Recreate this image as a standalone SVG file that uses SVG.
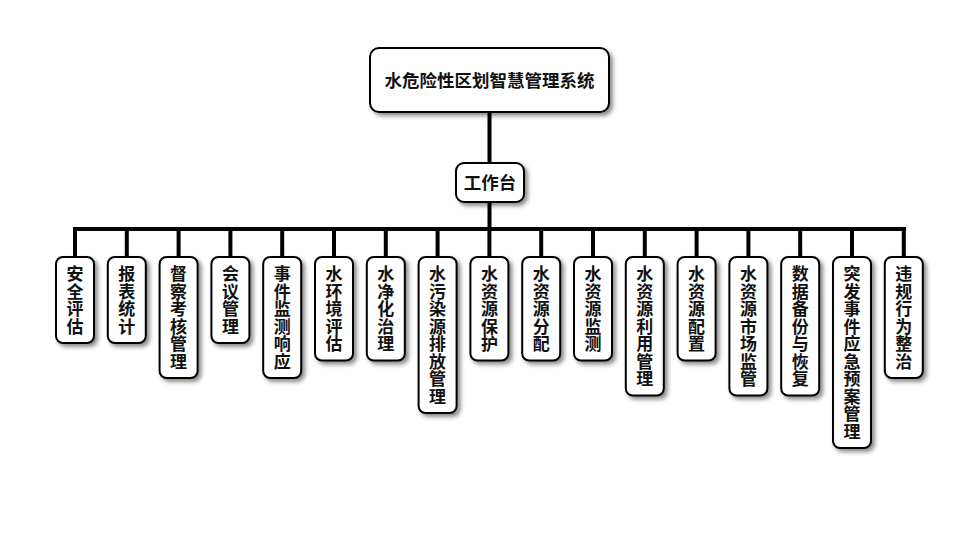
<svg xmlns="http://www.w3.org/2000/svg" width="980" height="560" viewBox="0 0 980 560">
<defs>
<filter id="sh" x="-30%" y="-30%" width="160%" height="160%">
<feDropShadow dx="3" dy="3" stdDeviation="2" flood-color="#000" flood-opacity="0.45"/>
</filter>
</defs>
<style>
.box{fill:#fff;stroke:#000;stroke-width:2;filter:url(#sh)}
.t{font-family:"Noto Sans CJK SC","Noto Sans",sans-serif;font-weight:bold;fill:#111;text-anchor:middle}
.big{font-size:17.5px}
.leaf{font-family:"Noto Sans CJK SC","Noto Sans",sans-serif;font-weight:bold;fill:#111;font-size:17px;writing-mode:vertical-rl;text-anchor:start;letter-spacing:0.5px}
.c{fill:none;stroke:#000;stroke-width:4;stroke-linecap:square}
</style>
<rect width="980" height="560" fill="#fff"/>
<g id="connectors">
<path class="c" d="M489.5,113V162M489.5,203V229M75,229H904M75,229V256M126.8,229V256M178.6,229V256M230.4,229V256M282.2,229V256M334,229V256M385.8,229V256M437.6,229V256M489.4,229V256M541.2,229V256M593,229V256M644.8,229V256M696.6,229V256M748.4,229V256M800.2,229V256M852,229V256M903.8,229V256"/>
</g>
<g id="root"><rect class="box" x="370" y="48" width="239" height="64" rx="9"/><text class="t big" x="489.5" y="86.5">水危险性区划智慧管理系统</text></g>
<g id="workbench"><rect class="box" x="456" y="163" width="68" height="39" rx="8"/><text class="t big" x="490" y="189">工作台</text></g>
<g id="n0"><rect class="box" x="56" y="257" width="38" height="86" rx="7"/><text class="leaf" x="75" y="265.2">安全评估</text></g>
<g id="n1"><rect class="box" x="107.8" y="257" width="38" height="86" rx="7"/><text class="leaf" x="126.8" y="265.2">报表统计</text></g>
<g id="n2"><rect class="box" x="159.6" y="257" width="38" height="121" rx="7"/><text class="leaf" x="178.6" y="265.2">督察考核管理</text></g>
<g id="n3"><rect class="box" x="211.4" y="257" width="38" height="86" rx="7"/><text class="leaf" x="230.4" y="265.2">会议管理</text></g>
<g id="n4"><rect class="box" x="263.2" y="257" width="38" height="121" rx="7"/><text class="leaf" x="282.2" y="265.2">事件监测响应</text></g>
<g id="n5"><rect class="box" x="315" y="257" width="38" height="103.5" rx="7"/><text class="leaf" x="334" y="265.2">水环境评估</text></g>
<g id="n6"><rect class="box" x="366.8" y="257" width="38" height="103.5" rx="7"/><text class="leaf" x="385.8" y="265.2">水净化治理</text></g>
<g id="n7"><rect class="box" x="418.6" y="257" width="38" height="156" rx="7"/><text class="leaf" x="437.6" y="265.2">水污染源排放管理</text></g>
<g id="n8"><rect class="box" x="470.4" y="257" width="38" height="103.5" rx="7"/><text class="leaf" x="489.4" y="265.2">水资源保护</text></g>
<g id="n9"><rect class="box" x="522.2" y="257" width="38" height="103.5" rx="7"/><text class="leaf" x="541.2" y="265.2">水资源分配</text></g>
<g id="n10"><rect class="box" x="574" y="257" width="38" height="103.5" rx="7"/><text class="leaf" x="593" y="265.2">水资源监测</text></g>
<g id="n11"><rect class="box" x="625.8" y="257" width="38" height="138.5" rx="7"/><text class="leaf" x="644.8" y="265.2">水资源利用管理</text></g>
<g id="n12"><rect class="box" x="677.6" y="257" width="38" height="103.5" rx="7"/><text class="leaf" x="696.6" y="265.2">水资源配置</text></g>
<g id="n13"><rect class="box" x="729.4" y="257" width="38" height="138.5" rx="7"/><text class="leaf" x="748.4" y="265.2">水资源市场监管</text></g>
<g id="n14"><rect class="box" x="781.2" y="257" width="38" height="138.5" rx="7"/><text class="leaf" x="800.2" y="265.2">数据备份与恢复</text></g>
<g id="n15"><rect class="box" x="833" y="257" width="38" height="191" rx="7"/><text class="leaf" x="852" y="265.2">突发事件应急预案管理</text></g>
<g id="n16"><rect class="box" x="884.8" y="257" width="38" height="121" rx="7"/><text class="leaf" x="903.8" y="265.2">违规行为整治</text></g>
</svg>
